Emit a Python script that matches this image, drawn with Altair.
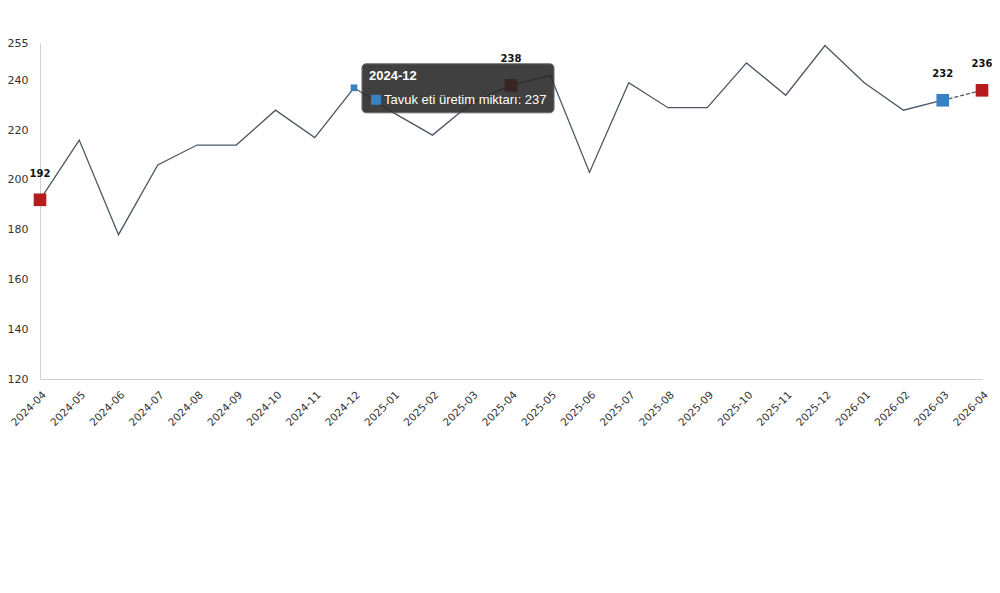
import altair as alt
import pandas as pd

months = ["2024-04", "2024-05", "2024-06", "2024-07", "2024-08", "2024-09",
          "2024-10", "2024-11", "2024-12", "2025-01", "2025-02", "2025-03",
          "2025-04", "2025-05", "2025-06", "2025-07", "2025-08", "2025-09",
          "2025-10", "2025-11", "2025-12", "2026-01", "2026-02", "2026-03",
          "2026-04"]
values = [192, 216, 178, 206, 214, 214, 228, 217, 237, 227, 218, 231,
          238, 242, 203, 239, 229, 229, 247, 234, 254, 239, 228, 232, 236]
y_ticks = [120, 140, 160, 180, 200, 220, 240, 255]

red_months = ["2024-04", "2025-04", "2026-04"]
blue_months = ["2026-03"]
hover_month = "2024-12"
series_name = "Tavuk eti üretim miktarı"

LINE = "#4a5866"
RED = "#b71c1c"
BLUE = "#3a7fc1"
FONT = "DejaVu Sans"
TIPFONT = "Liberation Sans"

df = pd.DataFrame({"i": list(range(len(months))), "month": months, "value": values})
solid = df.iloc[:-1]
dashed = df.iloc[-2:]
marks = df[df["month"].isin(red_months + blue_months)].copy()
marks["kind"] = ["blue" if m in blue_months else "red" for m in marks["month"]]
hover = df[df["month"] == hover_month].copy()
hover["title"] = hover["month"]
hover["label"] = series_name + ": " + hover["value"].astype(str)

label_arr = "[" + ",".join("'" + m + "'" for m in months) + "]"

x_axis = alt.Axis(values=list(range(len(months))), labelExpr=label_arr + "[datum.value]",
                  labelAngle=-45, labelAlign="right", labelBaseline="middle",
                  labelPadding=14, labelOffset=4, ticks=False, grid=False, title=None,
                  domainColor="#d0d0d0", labelColor="#333333",
                  labelFont=FONT, labelFontSize=10.5, labelOverlap=False, labelFlush=False,
                  labelBound=False)
y_axis = alt.Axis(values=y_ticks, ticks=False, grid=False, title=None,
                  labelPadding=12, domainColor="#d0d0d0", labelColor="#333333",
                  labelFont=FONT, labelFontSize=11)

x_enc = alt.X("i:Q", scale=alt.Scale(domain=[0, len(months) - 1], nice=False, zero=False), axis=x_axis)
y_enc = alt.Y("value:Q", scale=alt.Scale(domain=[120, 255], nice=False, zero=False), axis=y_axis)
xs = alt.X("i:Q", axis=x_axis)
ys = alt.Y("value:Q", axis=y_axis)

line_solid = alt.Chart(solid).mark_line(color=LINE, strokeWidth=1.3).encode(x=x_enc, y=y_enc)
line_dash = alt.Chart(dashed).mark_line(color=LINE, strokeWidth=1.3, strokeDash=[4, 2]).encode(x=xs, y=ys)

pts = alt.Chart(marks).mark_square(size=160, opacity=1).encode(
    x=xs, y=ys,
    color=alt.Color("kind:N", scale=alt.Scale(domain=["red", "blue"], range=[RED, BLUE]), legend=None))
lbls = alt.Chart(marks).mark_text(dy=-26, font=FONT, fontSize=10, fontWeight="bold", color="#111111").encode(
    x=xs, y=ys, text="value:Q")

hover_pt = alt.Chart(hover).mark_square(size=45, color=BLUE, opacity=1).encode(x=xs, y=ys)

tip_box = alt.Chart(hover).mark_rect(
    fill="#262626", opacity=0.88, cornerRadius=4, stroke="#555555", strokeWidth=1,
    xOffset=8, x2Offset=8 + 192, yOffset=-24, y2Offset=25).encode(
    x=xs, x2="i:Q", y=ys, y2="value:Q")
tip_title = alt.Chart(hover).mark_text(
    align="left", baseline="middle", dx=15, dy=-12, font=TIPFONT, fontSize=13,
    fontWeight="bold", color="#ffffff").encode(x=xs, y=ys, text="title:N")
tip_sq = alt.Chart(hover).mark_square(size=100, color=BLUE, opacity=1, xOffset=22, yOffset=12).encode(
    x=xs, y=ys)
tip_text = alt.Chart(hover).mark_text(
    align="left", baseline="middle", dx=30, dy=12, font=TIPFONT, fontSize=13,
    color="#ffffff").encode(x=xs, y=ys, text="label:N")

chart = alt.layer(line_solid, line_dash, pts, lbls, hover_pt, tip_box, tip_title, tip_sq, tip_text).properties(
    width=942, height=336,
    autosize=alt.AutoSizeParams(type="none"),
    padding={"left": 32, "top": 35, "right": 10, "bottom": 70},
).configure(background="#ffffff").configure_view(stroke=None).configure_axisX(labelOverlap=False)

chart.save("out.html", embed_options={"renderer": "svg", "actions": False})
